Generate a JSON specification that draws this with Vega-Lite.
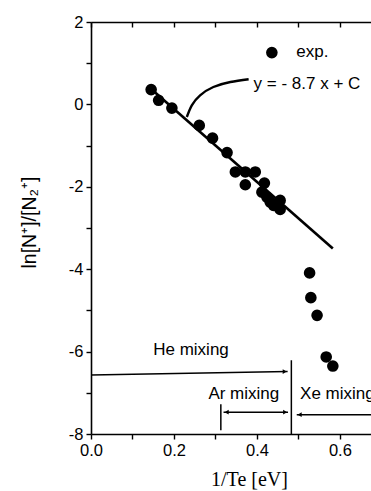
{
  "$schema": "https://vega.github.io/schema/vega-lite/v6.json",
  "autosize": "none",
  "width": 280,
  "height": 412,
  "padding": {"left": 91, "top": 22, "right": 0, "bottom": 57},
  "background": "white",
  "config": {
    "view": {"stroke": null},
    "axis": {
      "domainColor": "black", "domainWidth": 1.6, "tickColor": "black", "tickWidth": 1.4,
      "grid": false, "labelColor": "black", "titleColor": "black",
      "labelFont": "Liberation Sans", "labelFontSize": 16.5, "tickSize": 5, "labelPadding": 3
    }
  },
  "datasets": {
    "pts": [
      {"x": 0.145, "y": 0.36}, {"x": 0.163, "y": 0.10}, {"x": 0.195, "y": -0.09},
      {"x": 0.261, "y": -0.51}, {"x": 0.293, "y": -0.82}, {"x": 0.328, "y": -1.17},
      {"x": 0.348, "y": -1.64}, {"x": 0.372, "y": -1.64}, {"x": 0.396, "y": -1.64},
      {"x": 0.372, "y": -1.95}, {"x": 0.418, "y": -1.91}, {"x": 0.412, "y": -2.13},
      {"x": 0.424, "y": -2.25}, {"x": 0.432, "y": -2.37}, {"x": 0.44, "y": -2.45},
      {"x": 0.452, "y": -2.49}, {"x": 0.456, "y": -2.33}, {"x": 0.456, "y": -2.55},
      {"x": 0.527, "y": -4.09}, {"x": 0.530, "y": -4.69}, {"x": 0.545, "y": -5.12},
      {"x": 0.567, "y": -6.13}, {"x": 0.583, "y": -6.35}
    ]
  },
  "resolve": {"axis": {"x": "independent", "y": "independent"}},
  "layer": [
    {
      "data": {"name": "pts"},
      "mark": {"type": "point", "filled": true, "color": "black", "opacity": 1, "size": 135},
      "encoding": {
        "x": {"field": "x", "type": "quantitative", "scale": {"domain": [0, 0.675], "nice": false, "zero": false},
          "axis": {"orient": "bottom", "values": [0, 0.1, 0.2, 0.3, 0.4, 0.5, 0.6],
            "labelExpr": "round(datum.value*10) % 2 == 0 ? format(datum.value, '.1f') : ''",
            "title": "1/Te [eV]", "titleFont": "Liberation Serif", "titleFontSize": 20, "titleFontWeight": "normal",
            "titleX": 158, "titleY": 45, "titleBaseline": "middle", "titleAnchor": "middle", "labelFlush": false}},
        "y": {"field": "y", "type": "quantitative", "scale": {"domain": [-8, 2], "nice": false, "zero": false},
          "axis": {"orient": "left", "values": [-8, -7, -6, -5, -4, -3, -2, -1, 0, 1, 2],
            "labelExpr": "datum.value % 2 == 0 ? '' + datum.value : ''",
            "title": "ln[N⁺]/[N₂⁺]", "titleFont": "Liberation Sans", "titleFontSize": 19.5, "titleFontWeight": "normal",
            "titleAngle": -90, "titleX": -62, "titleY": 200, "titleBaseline": "middle", "titleAnchor": "middle", "labelFlush": false}}
      }
    },
    {
      "data": {"values": [{"x": 0}]},
      "mark": {"type": "point", "opacity": 0},
      "encoding": {
        "x": {"field": "x", "type": "quantitative", "scale": {"domain": [0, 0.675], "nice": false, "zero": false},
          "axis": {"orient": "top", "values": [0, 0.1, 0.2, 0.3, 0.4, 0.5, 0.6], "labels": false, "title": null, "tickSize": -5}}
      }
    },
    {
      "data": {"values": [{"x": 0.143, "y": 0.39, "x2": 0.583, "y2": -3.50}]},
      "mark": {"type": "rule", "color": "black", "strokeWidth": 2.6},
      "encoding": {
        "x": {"field": "x", "type": "quantitative", "scale": {"domain": [0, 0.675], "nice": false, "zero": false}, "axis": null},
        "y": {"field": "y", "type": "quantitative", "scale": {"domain": [-8, 2], "nice": false, "zero": false}, "axis": null},
        "x2": {"field": "x2"}, "y2": {"field": "y2"}
      }
    },
    {
      "data": {"values": [
        {"x": 0.231, "y": -0.306}, {"x": 0.243, "y": -0.022}, {"x": 0.263, "y": 0.221},
        {"x": 0.295, "y": 0.422}, {"x": 0.336, "y": 0.544}, {"x": 0.380, "y": 0.612}
      ]},
      "mark": {"type": "line", "color": "black", "strokeWidth": 2.4, "interpolate": "natural"},
      "encoding": {
        "x": {"field": "x", "type": "quantitative", "scale": {"domain": [0, 0.675], "nice": false, "zero": false}, "axis": null},
        "y": {"field": "y", "type": "quantitative", "scale": {"domain": [-8, 2], "nice": false, "zero": false}, "axis": null}
      }
    },
    {
      "data": {"values": [
        {"x": 0, "y": -6.57, "x2": 0.474, "y2": -6.48},
        {"x": 0.483, "y": -6.21, "x2": 0.483, "y2": -8},
        {"x": 0.313, "y": -7.28, "x2": 0.313, "y2": -7.91},
        {"x": 0.3195, "y": -7.47, "x2": 0.475, "y2": -7.47},
        {"x": 0.496, "y": -7.53, "x2": 0.675, "y2": -7.53}
      ]},
      "mark": {"type": "rule", "color": "black", "strokeWidth": 1.5},
      "encoding": {
        "x": {"field": "x", "type": "quantitative", "scale": {"domain": [0, 0.675], "nice": false, "zero": false}, "axis": null},
        "y": {"field": "y", "type": "quantitative", "scale": {"domain": [-8, 2], "nice": false, "zero": false}, "axis": null},
        "x2": {"field": "x2"}, "y2": {"field": "y2"}
      }
    },
    {
      "data": {"values": [
        {"x": 0.467, "y": -6.485, "dir": "right"},
        {"x": 0.468, "y": -7.47, "dir": "right"},
        {"x": 0.327, "y": -7.47, "dir": "left"},
        {"x": 0.503, "y": -7.53, "dir": "left"}
      ]},
      "mark": {"type": "point", "filled": true, "color": "black", "opacity": 1, "size": 22},
      "encoding": {
        "x": {"field": "x", "type": "quantitative", "scale": {"domain": [0, 0.675], "nice": false, "zero": false}, "axis": null},
        "y": {"field": "y", "type": "quantitative", "scale": {"domain": [-8, 2], "nice": false, "zero": false}, "axis": null},
        "shape": {"field": "dir", "type": "nominal", "scale": {"domain": ["right", "left"], "range": ["triangle-right", "triangle-left"]}, "legend": null}
      }
    },
    {
      "data": {"values": [{"x": 0.436, "y": 1.257}]},
      "mark": {"type": "point", "filled": true, "color": "black", "opacity": 1, "size": 135},
      "encoding": {
        "x": {"field": "x", "type": "quantitative", "scale": {"domain": [0, 0.675], "nice": false, "zero": false}, "axis": null},
        "y": {"field": "y", "type": "quantitative", "scale": {"domain": [-8, 2], "nice": false, "zero": false}, "axis": null}
      }
    },
    {
      "data": {"values": [
        {"x": 0.495, "y": 1.264, "t": "exp."},
        {"x": 0.392, "y": 0.505, "t": "y = - 8.7 x + C"},
        {"x": 0.150, "y": -5.97, "t": "He mixing"},
        {"x": 0.283, "y": -7.04, "t": "Ar mixing"},
        {"x": 0.504, "y": -7.04, "t": "Xe mixing"}
      ]},
      "mark": {"type": "text", "align": "left", "baseline": "middle", "font": "Liberation Sans", "fontSize": 17, "color": "black"},
      "encoding": {
        "x": {"field": "x", "type": "quantitative", "scale": {"domain": [0, 0.675], "nice": false, "zero": false}, "axis": null},
        "y": {"field": "y", "type": "quantitative", "scale": {"domain": [-8, 2], "nice": false, "zero": false}, "axis": null},
        "text": {"field": "t"}
      }
    }
  ]
}
